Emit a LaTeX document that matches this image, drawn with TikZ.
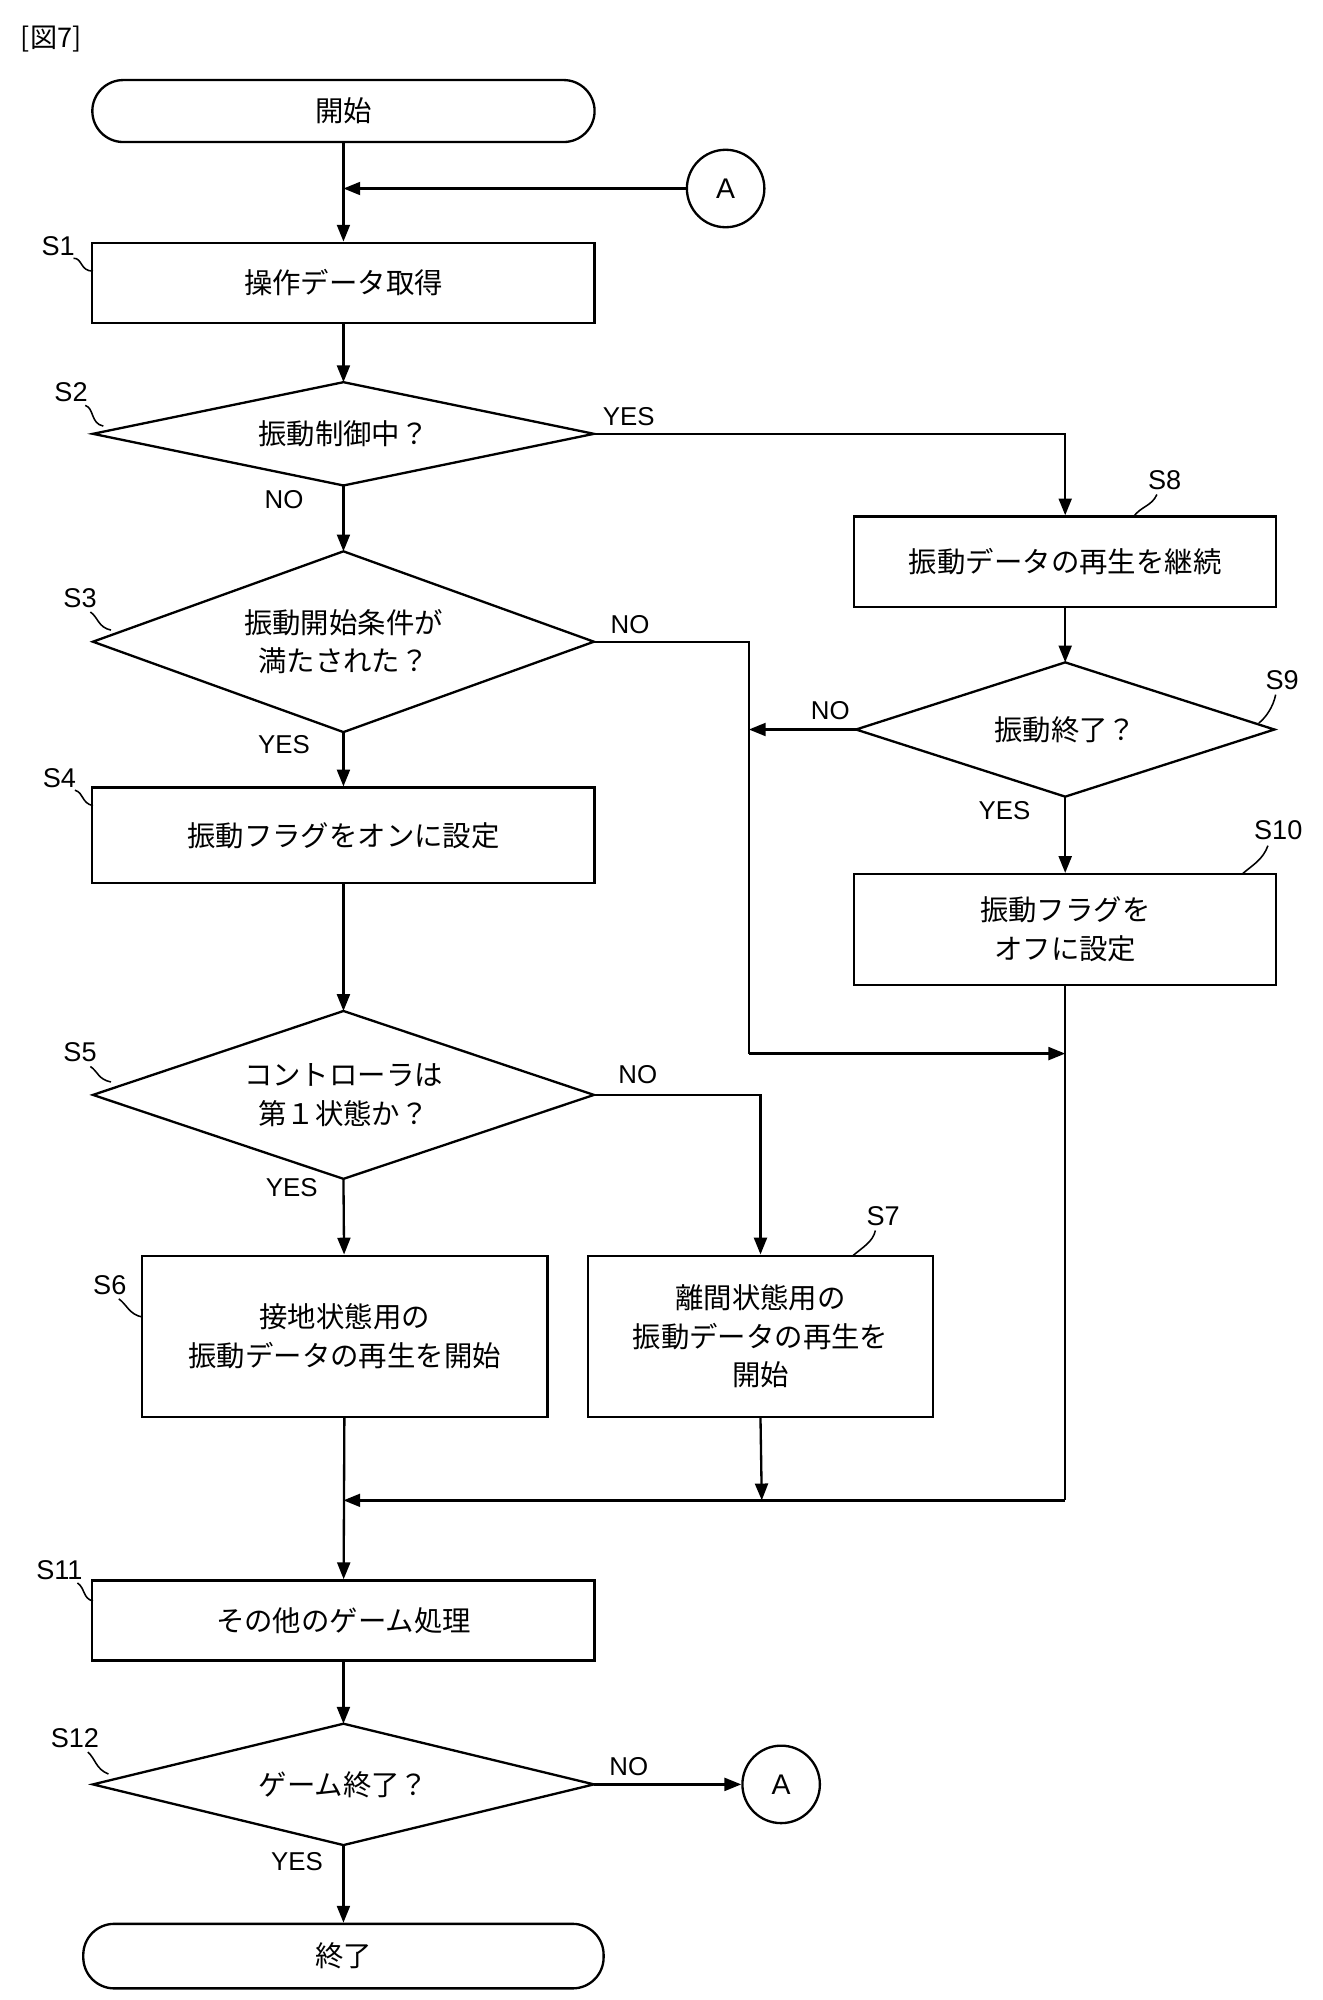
\documentclass[tikz,border=0pt]{standalone}
\usepackage{fontspec}
\setmainfont{Noto Sans CJK JP}
\newfontfamily\lab{Liberation Sans}
\usetikzlibrary{arrows.meta}
\newcommand{\mydia}[6]{%
  \node[align=center] (#1) at (#2,#3) {#6};
  \coordinate (#1-w) at ({#2-#4},#3);
  \coordinate (#1-e) at ({#2+#4},#3);
  \coordinate (#1-n) at (#2,{#3-#5});
  \coordinate (#1-s) at (#2,{#3+#5});
  \draw (#1-w) -- (#1-n) -- (#1-e) -- (#1-s) -- cycle;}
\begin{document}
\begin{tikzpicture}[x=1pt,y=-1pt,line width=1.8pt,
  every node/.style={font=\fontsize{22}{30}\selectfont},
  proc/.style={draw,rectangle,inner sep=0pt,align=center},
  term/.style={draw,rectangle,rounded corners=24pt,minimum width=389pt,minimum height=48pt,inner sep=0pt},
  conn/.style={draw,circle,minimum size=60pt,inner sep=0pt},
  yn/.style={font=\lab\fontsize{20}{24}\selectfont},
  sl/.style={font=\lab\fontsize{21}{24}\selectfont},
  arr/.style={-{Triangle[length=13pt,width=10pt]}},
  sq/.style={line width=1.2pt}]
\useasboundingbox (0,0) rectangle (1024,1549);
\node[anchor=west,font=\fontsize{21}{24}\selectfont] (title) at (12,30) {[図7]};
\node[term] (start) at (266,86) {開始};
\node[conn] (ca) at (562,146) {\lab A};
\node[proc,minimum width=389pt,minimum height=62pt] (s1) at (266,219) {操作データ取得};
\mydia{s2}{266}{336}{194}{40}{振動制御中？}
\mydia{s3}{266}{497}{194}{70}{振動開始条件が\\満たされた？}
\node[proc,minimum width=389pt,minimum height=74pt] (s4) at (266,647) {振動フラグをオンに設定};
\mydia{s5}{266}{848}{194}{65}{コントローラは\\第１状態か？}
\node[proc,minimum width=314pt,minimum height=125pt] (s6) at (267,1035) {接地状態用の\\振動データの再生を開始};
\node[proc,minimum width=267pt,minimum height=125pt] (s7) at (589,1035) {離間状態用の\\振動データの再生を\\開始};
\node[proc,minimum width=327pt,minimum height=70pt] (s8) at (825,435) {振動データの再生を継続};
\mydia{s9}{825}{565}{162}{52}{振動終了？}
\node[proc,minimum width=327pt,minimum height=86pt] (s10) at (825,720) {振動フラグを\\オフに設定};
\node[proc,minimum width=389pt,minimum height=62pt] (s11) at (266,1255) {その他のゲーム処理};
\mydia{s12}{266}{1382}{194}{47}{ゲーム終了？}
\node[conn] (cb) at (605,1382) {\lab A};
\node[term,minimum width=403pt,minimum height=50pt] (end) at (266,1515) {終了};
% coordinates
\coordinate (a1) at (266,146);
\coordinate (j3) at (580,816);
\coordinate (j9) at (580,565);
\coordinate (j10) at (825,816);
\coordinate (m6) at (266,1162);
\coordinate (m7) at (590,1162);
\coordinate (m10) at (825,1162);
% connectors
\draw[arr] (start) -- (s1);
\draw[arr] (ca) -- (a1);
\draw[arr] (s1) -- (s2-n);
\draw[arr] (s2-s) -- (s3-n);
\draw[arr] (s2-e) -| (s8.north);
\draw[arr] (s3-s) -- (s4);
\draw (s3-e) -| (j3);
\draw[arr] (j3) -- (j10);
\draw[arr] (s8) -- (s9-n);
\draw[arr] (s9-w) -- (j9);
\draw[arr] (s9-s) -- (s10);
\draw (s10.south) -- (m10);
\draw[arr] (m10) -- (m6);
\draw[arr] (s4) -- (s5-n);
\draw[arr] (s5-s) -- (s6);
\draw[arr] (s5-e) -| (s7.north);
\draw[arr] (s7.south) -- (m7);
\draw[arr] (s6) -- (s11);
\draw[arr] (s11) -- (s12-n);
\draw[arr] (s12-e) -- (cb);
\draw[arr] (s12-s) -- (end);
% yes/no
\node[yn] (y2) at (487,323) {YES};
\node[yn] (n2) at (220,387) {NO};
\node[yn] (n3) at (488,484) {NO};
\node[yn] (y3) at (220,577) {YES};
\node[yn] (n9) at (643,550) {NO};
\node[yn] (y9) at (778,628) {YES};
\node[yn] (n5) at (494,832) {NO};
\node[yn] (y5) at (226,920) {YES};
\node[yn] (n12) at (487,1368) {NO};
\node[yn] (y12) at (230,1442) {YES};
% step labels
\node[sl] (l1) at (45,191) {S1};
\draw[sq] (57,200) .. controls (64,200) and (62,210) .. (72,210);
\node[sl] (l2) at (55,304) {S2};
\draw[sq] (66,314) .. controls (73,316) and (70,328) .. (80,330);
\node[sl] (l3) at (62,463) {S3};
\draw[sq] (70,474) .. controls (76,478) and (76,486) .. (86,488);
\node[sl] (l4) at (46,603) {S4};
\draw[sq] (58,612) .. controls (65,614) and (63,622) .. (72,624);
\node[sl] (l5) at (62,815) {S5};
\draw[sq] (70,826) .. controls (76,830) and (76,836) .. (86,838);
\node[sl] (l6) at (85,995) {S6};
\draw[sq] (92,1006) .. controls (98,1010) and (100,1018) .. (110,1020);
\node[sl] (l7) at (684,942) {S7};
\draw[sq] (678,953) .. controls (676,962) and (668,966) .. (660,973);
\node[sl] (l8) at (902,372) {S8};
\draw[sq] (896,383) .. controls (892,392) and (884,392) .. (878,400);
\node[sl] (l9) at (993,527) {S9};
\draw[sq] (988,538) .. controls (986,548) and (980,556) .. (975,560);
\node[sl] (l10) at (990,643) {S10};
\draw[sq] (982,655) .. controls (978,666) and (970,670) .. (962,677);
\node[sl] (l11) at (46,1216) {S11};
\draw[sq] (60,1226) .. controls (66,1230) and (64,1238) .. (72,1240);
\node[sl] (l12) at (58,1346) {S12};
\draw[sq] (68,1357) .. controls (74,1362) and (74,1370) .. (84,1374);
\end{tikzpicture}
\end{document}
